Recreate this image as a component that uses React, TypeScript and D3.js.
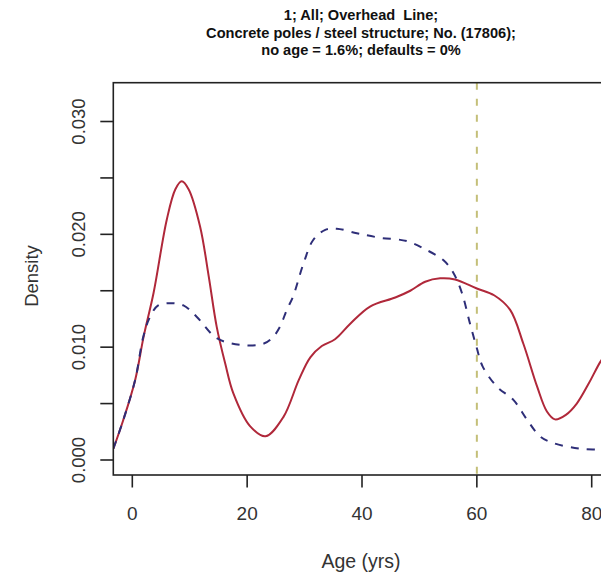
import React from "react";
import * as d3 from "d3";

const titleLines = [
  "1; All; Overhead  Line;",
  "Concrete poles / steel structure; No. (17806);",
  "no age = 1.6%; defaults = 0%",
];

const redAge = [-3.3, -1.6, 0.5, 2.0, 3.7, 6.0, 7.5, 8.6, 9.8, 11.8, 13.3, 14.7, 16.2, 17.6, 20.5, 23.2, 26.3, 29.0, 31.0, 33.0, 35.3, 38.0, 41.4, 45.8, 48.4, 51.0, 53.6, 56.2, 60.0, 63.0, 65.8, 68.1, 70.5, 72.2, 73.6, 75.5, 77.4, 79.5, 81.5, 83.0];
const redDensity = [0.001, 0.0035, 0.0071, 0.011, 0.0148, 0.0213, 0.024, 0.0247, 0.024, 0.0207, 0.0163, 0.0118, 0.0085, 0.0059, 0.003, 0.0021, 0.0038, 0.0071, 0.0091, 0.0101, 0.0107, 0.0121, 0.0136, 0.0144, 0.015, 0.0158, 0.0161, 0.016, 0.0152, 0.0146, 0.0133, 0.0103, 0.0065, 0.0043, 0.0036, 0.004, 0.005, 0.0068, 0.0087, 0.0098];

const blueAge = [-3.3, -1.6, 0.5, 1.9, 3.1, 4.5, 6.6, 8.9, 11.2, 14.7, 18.8, 22.8, 24.5, 25.7, 26.9, 28.0, 29.8, 31.5, 33.6, 35.6, 39.1, 43.1, 47.8, 51.3, 54.2, 55.9, 57.4, 58.8, 60.0, 61.0, 63.5, 66.4, 68.7, 71.0, 73.3, 78.0, 81.5, 83.0];
const blueDensity = [0.001, 0.0035, 0.0071, 0.0109, 0.0127, 0.0137, 0.0139, 0.0137, 0.0127, 0.0108, 0.0102, 0.0103, 0.0109, 0.0118, 0.0133, 0.0145, 0.0174, 0.0195, 0.0204, 0.0205, 0.0201, 0.0197, 0.0194, 0.0186, 0.0177, 0.0166, 0.0148, 0.0121, 0.0099, 0.0083, 0.0065, 0.0053, 0.0036, 0.0021, 0.0015, 0.001, 0.0009, 0.0008];

const xTicks = [0, 20, 40, 60, 80];
const yTicks = [0, 0.005, 0.01, 0.015, 0.02, 0.025, 0.03];
const yLabels = [0, 0.01, 0.02, 0.03];
const refAge = 60;

export default function App() {
  const W = 601, H = 574;
  const L = 113.3, R = 608.7, T = 82.7, B = 475;
  const x = d3.scaleLinear().domain([-3.31, 82.96]).range([L, R]);
  const y = d3.scaleLinear().domain([-0.00133, 0.03344]).range([B, T]);
  const line = d3.line<[number, number]>().x(d => x(d[0])).y(d => y(d[1])).curve(d3.curveCatmullRom.alpha(0.5));
  const red = line(redAge.map((a, i) => [a, redDensity[i]]) as [number, number][]) || "";
  const blue = line(blueAge.map((a, i) => [a, blueDensity[i]]) as [number, number][]) || "";
  const font = "Liberation Sans, Arial, Helvetica, sans-serif";
  return (
    <svg width={W} height={H} style={{ position: "absolute", left: 0, top: 0, background: "#fff" }} fontFamily={font}>
      <defs>
        <clipPath id="plotclip">
          <rect x={L} y={T} width={R - L} height={B - T} />
        </clipPath>
      </defs>
      {titleLines.map((t, i) => (
        <text key={i} x={(L + R) / 2} y={20 + i * 17.5} textAnchor="middle" fontWeight="bold" fontSize={14.6} fill="#111" style={{ whiteSpace: "pre" }}>{t}</text>
      ))}
      <g clipPath="url(#plotclip)">
        <path d={red} fill="none" stroke="#b0283a" strokeWidth={2} />
        <path d={blue} fill="none" stroke="#2e2e78" strokeWidth={2} strokeDasharray="8,8" />
        <line x1={x(refAge)} x2={x(refAge)} y1={T} y2={B} stroke="#c4bf78" strokeWidth={2} strokeDasharray="7,9" />
      </g>
      <rect x={L} y={T} width={R - L} height={B - T} fill="none" stroke="#222" strokeWidth={1.6} />
      {xTicks.map(t => (
        <g key={t}>
          <line x1={x(t)} x2={x(t)} y1={B} y2={B + 12.5} stroke="#222" strokeWidth={1.6} />
          <text x={x(t)} y={520} textAnchor="middle" fontSize={19} fill="#333">{t}</text>
        </g>
      ))}
      {yTicks.map(t => (
        <line key={t} x1={L - 13} x2={L} y1={y(t)} y2={y(t)} stroke="#222" strokeWidth={1.6} />
      ))}
      {yLabels.map(t => (
        <text key={t} transform={`translate(84.5,${y(t)}) rotate(-90)`} textAnchor="middle" fontSize={18.5} fill="#333">{t.toFixed(3)}</text>
      ))}
      <text x={(L + R) / 2} y={568} textAnchor="middle" fontSize={19.5} fill="#333">Age (yrs)</text>
      <text transform={`translate(38,276) rotate(-90)`} textAnchor="middle" fontSize={18.5} fill="#333">Density</text>
    </svg>
  );
}
